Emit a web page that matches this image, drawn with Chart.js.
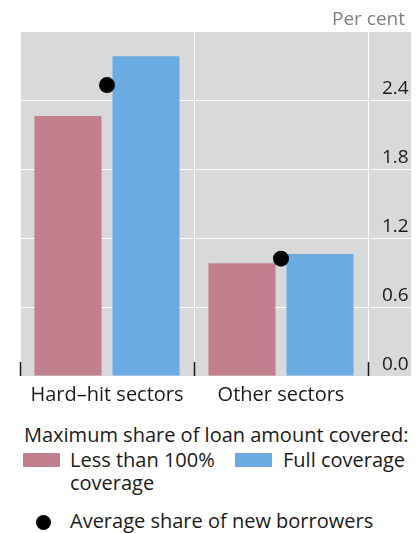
<!DOCTYPE html>
<html>
<head>
<meta charset="utf-8">
<script src="https://cdn.jsdelivr.net/npm/chart.js@4.4.0/dist/chart.umd.min.js"></script>
<style>
  body { margin: 0; background: #fff; font-family: "Open Sans", sans-serif; }
  #wrap { position: relative; width: 419px; height: 533px; overflow: hidden; }
  #chart { position: absolute; left: 0; top: 0; }
  .lg { position: absolute; font-size: 20px; line-height: 23px; color: #1a1a1a; white-space: nowrap; }
  .box { position: absolute; width: 37px; height: 14px; }
  .dot { position: absolute; width: 15px; height: 15px; border-radius: 50%; background: #000; }
</style>
</head>
<body>
<div id="wrap">
  <canvas id="chart" width="419" height="410"></canvas>
  <div class="lg" style="left:24px; top:423px">Maximum share of loan amount covered:</div>
  <div class="box" style="left:23px; top:453px; background:#c27f8e"></div>
  <div class="lg" style="left:70px; top:448px">Less than 100%<br>coverage</div>
  <div class="box" style="left:235px; top:453px; background:#6aace1"></div>
  <div class="lg" style="left:283px; top:448px">Full coverage</div>
  <div class="dot" style="left:36px; top:515px"></div>
  <div class="lg" style="left:70px; top:509px">Average share of new borrowers</div>
</div>
<script>
  const categories = ["Hard–hit sectors", "Other sectors"];
  const lessThanFull = [2.26, 0.98];
  const fullCoverage = [2.78, 1.06];
  const newBorrowers = [2.53, 1.02];
  const yTicks = [0, 0.6, 1.2, 1.8, 2.4, 3.0];
  const yLabels = ["0.0", "0.6", "1.2", "1.8", "2.4", ""];

  const AXIS_W = 43;

  // grey panel behind plot + axis labels, dark category ticks, unit label
  const panel = {
    id: "panel",
    beforeDraw(chart) {
      const { ctx, chartArea: a } = chart;
      ctx.save();
      ctx.fillStyle = "#d9d9d9";
      ctx.fillRect(a.left, a.top, a.right - a.left + AXIS_W, a.bottom - a.top);
      ctx.restore();
    },
    afterDatasetsDraw(chart) {
      const { ctx, chartArea: a } = chart;
      const step = (a.right - a.left) / categories.length;
      ctx.save();
      ctx.strokeStyle = "#1a1a1a";
      ctx.lineWidth = 1.5;
      for (let i = 0; i <= categories.length; i++) {
        const x = Math.round(a.left + i * step) + 0.5;
        ctx.beginPath();
        ctx.moveTo(x, a.bottom - 14);
        ctx.lineTo(x, a.bottom);
        ctx.stroke();
      }
      ctx.fillStyle = "#7f7f7f";
      ctx.font = '19px "Open Sans"';
      ctx.textAlign = "right";
      ctx.textBaseline = "alphabetic";
      ctx.fillText("Per cent", a.right + AXIS_W - 6, 25);
      ctx.restore();
    },
  };

  new Chart(document.getElementById("chart"), {
    type: "bar",
    data: {
      labels: categories,
      datasets: [
        {
          type: "line",
          label: "Average share of new borrowers",
          data: newBorrowers,
          showLine: false,
          pointRadius: 8,
          pointHoverRadius: 8,
          pointBackgroundColor: "#000",
          pointBorderWidth: 0,
          order: 1,
        },
        {
          label: "Less than 100% coverage",
          data: lessThanFull,
          backgroundColor: "#c27f8e",
          categoryPercentage: 0.897,
          barPercentage: 0.859,
          order: 2,
        },
        {
          label: "Full coverage",
          data: fullCoverage,
          backgroundColor: "#6aace1",
          categoryPercentage: 0.897,
          barPercentage: 0.859,
          order: 2,
        },
      ],
    },
    options: {
      responsive: false,
      animation: false,
      layout: { padding: { left: 20, right: 8, top: 31, bottom: 0 } },
      plugins: {
        legend: { display: false },
        tooltip: { enabled: false },
      },
      scales: {
        x: {
          grid: { color: "#ffffff", lineWidth: 1, drawTicks: false, offset: true },
          border: { display: false },
          ticks: {
            color: "#1a1a1a",
            font: { family: "Open Sans", size: 20 },
            padding: 7,
          },
          afterFit(scale) { scale.height = 34; },
        },
        y: {
          position: "right",
          min: 0,
          max: 3,
          grid: { color: "#ffffff", lineWidth: 1, drawTicks: true, tickLength: AXIS_W },
          border: { display: false },
          afterBuildTicks(scale) { scale.ticks = yTicks.map((v) => ({ value: v })); },
          ticks: {
            color: "#1a1a1a",
            font: { family: "Open Sans", size: 19 },
            crossAlign: "near",
            padding: -29,
            labelOffset: -11,
            callback: (v, i) => yLabels[i],
          },
          afterFit(scale) { scale.width = AXIS_W; },
        },
      },
    },
    plugins: [panel],
  });
</script>
</body>
</html>
